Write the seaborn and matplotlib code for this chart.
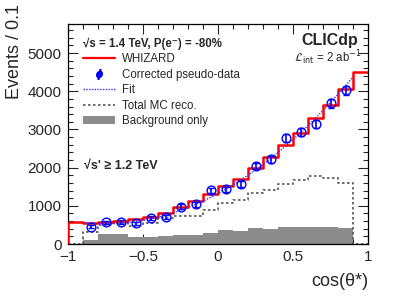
import numpy as np
import pandas as pd
import matplotlib
matplotlib.use("Agg")
import matplotlib.pyplot as plt
import seaborn as sns
from matplotlib.lines import Line2D
from matplotlib.patches import Patch
from matplotlib.ticker import MultipleLocator

# bin edges of cos(theta*) : 20 bins of 0.1
edges = [round(-1.0 + 0.1 * i, 2) for i in range(21)]
centers = [round(e + 0.05, 3) for e in edges[:-1]]

whizard = [585, 555, 565, 600, 648, 716, 815, 977, 1115, 1315,
           1510, 1705, 1981, 2286, 2592, 2914, 3290, 3639, 4050, 4505]
total_mc = [0, 323, 497, 541, 480, 541, 672, 733, 733, 890,
            1082, 1152, 1326, 1414, 1562, 1675, 1780, 1719, 1588, 0]
background = [0, 105, 262, 262, 175, 192, 209, 227, 244, 279,
              375, 340, 410, 384, 436, 445, 445, 445, 428, 0]

# corrected pseudo-data (bins 2..19)
data_x = centers[1:19]
data_y = [454, 570, 575, 541, 685, 716, 977, 1038, 1405, 1435,
          1580, 2046, 2216, 2780, 2930, 3130, 3682, 4020]
data_err = [40, 45, 45, 45, 50, 50, 60, 60, 70, 70,
            75, 85, 90, 100, 100, 105, 115, 120]

fit_x = [-0.9, -0.8, -0.7, -0.6, -0.5, -0.4, -0.3, -0.2, -0.1, 0.0,
         0.1, 0.2, 0.3, 0.4, 0.5, 0.6, 0.7, 0.8, 0.9]
fit_y = [558, 530, 530, 558, 615, 698, 811, 953, 1122, 1320,
         1546, 1801, 2083, 2394, 2734, 3100, 3496, 3920, 4372]

hist = pd.DataFrame({"cos": centers, "whizard": whizard,
                     "total": total_mc, "bkg": background})

sns.set_style("ticks")
plt.rcParams["font.family"] = ["Liberation Sans", "DejaVu Sans"]

fig = plt.figure(figsize=(3.99, 2.99), dpi=100)
ax = fig.add_axes([68 / 399, 1 - 244 / 299, 300 / 399, 220 / 299])

bkg_col = "#8c8c8c"
sns.histplot(data=hist, x="cos", weights="bkg", bins=edges, element="step",
             fill=True, color=bkg_col, alpha=1, linewidth=0, ax=ax)
sns.histplot(data=hist, x="cos", weights="total", bins=edges, element="step",
             fill=False, color="#555555", linestyle=(0, (1.5, 1.5)),
             linewidth=1.2, ax=ax)
sns.histplot(data=hist, x="cos", weights="whizard", bins=edges, element="step",
             fill=False, color="#ff0000", linewidth=1.8, ax=ax)
# left edge of the WHIZARD histogram
ax.vlines(edges[0], 0, whizard[0], color="#ff0000", lw=1.8, zorder=3)
sns.lineplot(x=fit_x, y=fit_y, color="#3333ff", linestyle=(0, (1, 1)),
             linewidth=1.0, ax=ax)
ax.errorbar(data_x, data_y, yerr=data_err, fmt="o", ms=6.3, mfc="none",
            mec="#0000ff", mew=1.0, ecolor="#0000ff", elinewidth=1.2,
            capsize=2.5, capthick=1.2, zorder=5)

ax.set_xlim(-1, 1)
ax.set_ylim(0, 5760)
ax.set_xlabel("")
ax.set_ylabel("")
ax.set_xticks([-1, -0.5, 0, 0.5, 1])
ax.set_xticklabels(["\u22121", "\u22120.5", "0", "0.5", "1"])
ax.xaxis.set_minor_locator(MultipleLocator(0.1))
ax.yaxis.set_major_locator(MultipleLocator(1000))
ax.yaxis.set_minor_locator(MultipleLocator(200))
ax.tick_params(which="both", direction="in", top=True, right=True,
               labelsize=11, pad=4.5, width=0.8)
ax.tick_params(which="major", length=7)
ax.tick_params(which="minor", length=3.5)
for s in ax.spines.values():
    s.set_linewidth(0.9)
    s.set_color("black")

fig.text(15 / 399, 0.985, "Events / 0.1", rotation=90, ha="center",
         va="top", fontsize=13)
fig.text(368 / 399, 1 - 281 / 299, "cos(\u03b8*)", ha="right", va="center",
         fontsize=13)

handles = [
    Line2D([], [], color="#ff0000", lw=1.6),
    Line2D([], [], color="#0000ff", marker="$\u0278$", ms=7, lw=0),
    Line2D([], [], color="#3333ff", lw=1.0, linestyle=(0, (1, 1))),
    Line2D([], [], color="#555555", lw=1.2, linestyle=(0, (1.5, 1.5))),
    Patch(facecolor=bkg_col, edgecolor="none"),
]
labels = ["WHIZARD", "Corrected pseudo-data", "Fit", "Total MC reco.",
          "Background only"]
leg = ax.legend(handles, labels, loc="upper left",
                bbox_to_anchor=(0.022, 0.975), frameon=False, fontsize=8.3,
                title="\u221as = 1.4 TeV, P(e\u207b) = -80%",
                title_fontproperties={"weight": "bold", "size": 8.3},
                alignment="left", labelspacing=0.3, handlelength=2.8,
                handletextpad=0.58, borderpad=0.2)

ax.text(0.967, 0.903, "CLICdp", transform=ax.transAxes, ha="right",
        va="baseline", fontsize=11.5, fontweight="bold")
ax.text(0.978, 0.828, r"$\mathcal{L}_{\rm int}$ = 2 ab$^{-1}$",
        transform=ax.transAxes, ha="right", va="baseline", fontsize=8.3)
ax.text(0.055, 0.355, "\u221as' \u2265 1.2 TeV", transform=ax.transAxes,
        ha="left", va="center", fontsize=9, fontweight="bold")

fig.savefig("out.png", dpi=100)
